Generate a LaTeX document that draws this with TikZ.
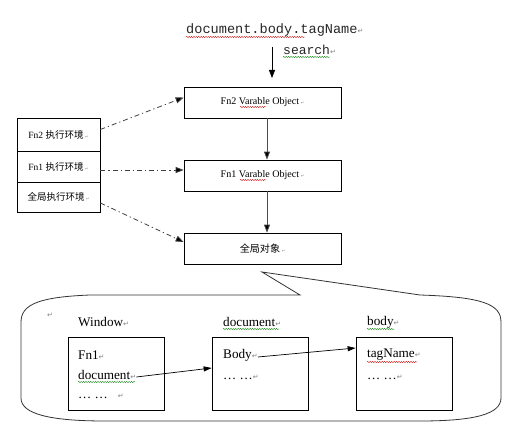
\documentclass[tikz,border=0pt]{standalone}
\usepackage{fontspec}
\setmainfont{Liberation Serif}
\newfontfamily\codef{Liberation Mono}
\newfontfamily\cjkf{Noto Sans CJK SC}
\newfontfamily\markf{DejaVu Sans}
\usetikzlibrary{arrows.meta,decorations.pathmorphing}
\newcommand{\pmk}[1][6]{{\markf\fontsize{#1}{#1}\selectfont\color{gray}↵}}
\tikzset{
  box/.style={draw, line width=0.7pt, inner sep=0pt, align=center},
  small/.style={font=\fontsize{9.5}{11}\selectfont},
  vo/.style={font=\fontsize{10.1}{11}\selectfont},
  big/.style={font=\fontsize{13.2}{14}\selectfont, inner sep=0pt},
  solidarrow/.style={draw=black!70, line width=0.8pt, -{Triangle[length=8pt,width=6pt,fill=black]}},
  dasharrow/.style={draw=black!75, line width=0.8pt, dash pattern=on 5pt off 3pt on 1.2pt off 3pt, -{Triangle[length=8pt,width=6pt,fill=black]}},
  thinarrow/.style={draw=black, line width=0.7pt, -{Triangle[length=8pt,width=5pt]}},
  wavyred/.style={draw=red!80!black, line width=0.35pt, decorate, decoration={snake, amplitude=0.6pt, segment length=2.4pt}},
  wavygreen/.style={draw=green!50!black, line width=0.35pt, decorate, decoration={snake, amplitude=0.6pt, segment length=2.4pt}},
}
\begin{document}
\begin{tikzpicture}[x=1pt,y=-1pt]
\useasboundingbox[fill=white] (0,0) rectangle (522,446);

% top text
\node[anchor=west, inner sep=0pt, font=\codef\fontsize{13.6}{14}\selectfont, text=black!85] (expr) at (186,30) {document.body.tagName\pmk[7]};
\draw[wavyred] (186,37) -- (305,37);
\node[anchor=west, inner sep=0pt, font=\codef\fontsize{13}{14}\selectfont, text=black!85] (search) at (283,50) {search\pmk[7]};
\draw[wavygreen] (283,57) -- (330,57);
\coordinate (qs) at (272,47);
\coordinate (qe) at (272,78);
\draw[solidarrow, draw=black] (qs) -- (qe);

% variable objects
\node[box, vo, minimum width=157pt, minimum height=31pt] (fn2vo) at (262.5,102.5) {Fn2 Varable Object\,\pmk[4]};
\node[box, vo, minimum width=157pt, minimum height=31pt] (fn1vo) at (262.5,175.5) {Fn1 Varable Object\,\pmk[4]};
\node[box, vo, minimum width=157pt, minimum height=31pt] (gobj) at (262.5,248.5) {{\cjkf 全局对象}\,\pmk[4]};
\draw[wavyred] (240,107) -- (266,107);
\draw[wavyred] (240,180) -- (266,180);

\draw[solidarrow] ([xshift=4.5pt]fn2vo.south) -- ([xshift=4.5pt]fn1vo.north);
\draw[solidarrow] ([xshift=4.5pt]fn1vo.south) -- ([xshift=4.5pt]gobj.north);

% execution environment stack
\node[box, small, minimum width=83pt, minimum height=33pt] (fn2env) at (58.5,134.5) {Fn2 {\cjkf 执行环境}\,\pmk[4]};
\node[box, small, minimum width=83pt, minimum height=31pt] (fn1env) at (58.5,166.5) {Fn1 {\cjkf 执行环境}\,\pmk[4]};
\node[box, small, minimum width=83pt, minimum height=30pt] (genv) at (58.5,197) {{\cjkf 全局执行环境}\,\pmk[4]};

\draw[dasharrow] ([yshift=5pt]fn2env.east) -- ([yshift=5pt]fn2vo.west);
\draw[dasharrow] ([yshift=-3.5pt]fn1env.east) -- ([yshift=5.5pt]fn1vo.west);
\draw[dasharrow] ([yshift=-6pt]genv.east) -- ([yshift=6.5pt]gobj.west);

% callout
\draw[line width=0.8pt, draw=black!80]
  (262,272) -- (300,295) -- (90,295)
  .. controls (40,297) and (21,304) .. (21,322)
  -- (21,398)
  .. controls (21,414) and (50,421) .. (105,421)
  -- (420,421)
  .. controls (475,421) and (501,414) .. (501,398)
  -- (501,322)
  .. controls (501,304) and (482,297) .. (420,295)
  -- cycle;
\node[inner sep=0pt] (cmark) at (50,315) {\pmk[7]};

% labels
\node[big, anchor=west] (lwin) at (78,322) {Window\pmk[7]};
\node[big, anchor=west] (ldoc) at (223,322) {document\pmk[7]};
\node[big, anchor=west] (lbody) at (367,322) {body\pmk[7]};
\draw[wavygreen] (223,329) -- (279,329);
\draw[wavygreen] (367,329) -- (394,329);

% inner boxes
\node[box, minimum width=96pt, minimum height=73pt] (winbox) at (116,373.5) {};
\node[box, minimum width=96pt, minimum height=73pt] (docbox) at (260,373.5) {};
\node[box, minimum width=96pt, minimum height=73pt] (bodbox) at (404,373.5) {};

\node[big, anchor=west] (wfn1) at (78,355) {Fn1\pmk[7]};
\node[big, anchor=west] (wdoc) at (78,375) {document\pmk[7]};
\node[big, anchor=west] (wdots) at (78,396) {… …\ \ \ \pmk[7]};
\draw[wavygreen] (78,382) -- (135,382);

\node[big, anchor=west] (dbody) at (223,355) {Body\pmk[7]};
\node[big, anchor=west] (ddots) at (223,377) {… …\pmk[7]};

\node[big, anchor=west] (btag) at (367,355) {tagName\pmk[7]};
\node[big, anchor=west] (bdots) at (367,377) {… …\pmk[7]};
\draw[wavyred] (367,362) -- (417,362);

\draw[thinarrow] ([yshift=-2pt]wdoc.east) -- ([yshift=5.5pt]docbox.west);
\draw[thinarrow] ([yshift=-2pt]dbody.east) -- ([yshift=25.5pt]bodbox.west);
\end{tikzpicture}
\end{document}
